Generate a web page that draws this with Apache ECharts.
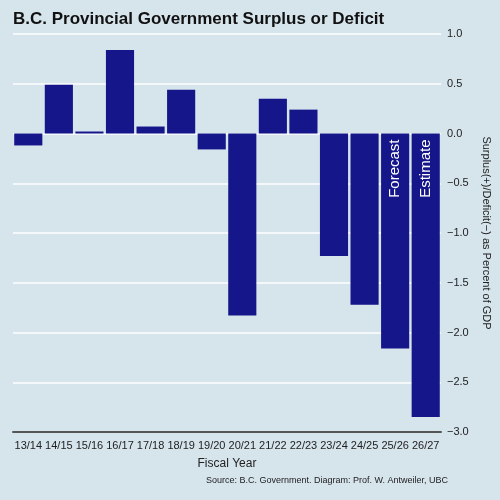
<!DOCTYPE html>
<html>
<head>
<meta charset="utf-8">
<script src="https://cdn.jsdelivr.net/npm/echarts@6/dist/echarts.min.js"></script>
<style>html,body{margin:0;padding:0;background:#d6e4ec}#chart{width:500px;height:500px}</style>
</head>
<body>
<div id="chart"></div>
<script>
var years = ['13/14','14/15','15/16','16/17','17/18','18/19','19/20','20/21','21/22','22/23','23/24','24/25','25/26','26/27'];
var balance = [-0.12, 0.49, 0.02, 0.84, 0.07, 0.44, -0.16, -1.83, 0.35, 0.24, -1.23, -1.72, -2.16, -2.85];
var barNotes = {12: 'Forecast', 13: 'Estimate'};

var myChart = echarts.init(document.getElementById('chart'));
var option = {
  backgroundColor: '#d6e4ec',
  title: {
    text: 'B.C. Provincial Government Surplus or Deficit',
    left: 8, top: 6,
    textStyle: {fontFamily: 'Liberation Sans', fontSize: 17, fontWeight: 'bold', color: '#111'}
  },
  graphic: [{
    type: 'text', right: 52, top: 476,
    style: {text: 'Source: B.C. Government. Diagram: Prof. W. Antweiler, UBC',
      font: '9px "Liberation Sans"', fill: '#222'}
  }],
  grid: {left: 13, right: 55, top: 34, bottom: 68},
  xAxis: {
    type: 'category',
    data: years,
    name: 'Fiscal Year',
    nameLocation: 'middle',
    nameGap: 26,
    nameTextStyle: {fontFamily: 'Liberation Sans', fontSize: 12, color: '#222'},
    axisLine: {onZero: false, lineStyle: {color: '#555', width: 2}},
    axisTick: {show: false},
    axisLabel: {fontFamily: 'Liberation Sans', fontSize: 11, color: '#222', interval: 0, margin: 8}
  },
  yAxis: {
    type: 'value',
    position: 'right',
    min: -3, max: 1, interval: 0.5,
    name: 'Surplus(+)/Deficit(\u2212) as Percent of GDP',
    nameLocation: 'middle',
    nameGap: 40,
    nameRotate: -90,
    nameTextStyle: {fontFamily: 'Liberation Sans', fontSize: 11, color: '#222'},
    axisLine: {show: false},
    axisTick: {show: false},
    axisLabel: {
      fontFamily: 'Liberation Sans', fontSize: 11, color: '#222', margin: 6,
      formatter: function (v) { return (v < 0 ? '\u2212' : '') + Math.abs(v).toFixed(1); }
    },
    splitLine: {lineStyle: {color: '#ffffff', width: 1.5}}
  },
  series: [{
    type: 'bar',
    data: balance.map(function (v, i) {
      var d = {value: v};
      if (barNotes[i]) {
        d.label = {
          show: true, position: 'insideTop', rotate: 90, distance: 6,
          formatter: barNotes[i], color: '#fff', fontFamily: 'Liberation Sans', fontSize: 15,
          align: 'right', verticalAlign: 'middle'
        };
      }
      return d;
    }),
    barCategoryGap: '8%',
    itemStyle: {color: '#15168a'}
  }]
};
myChart.setOption(option);
</script>
</body>
</html>
